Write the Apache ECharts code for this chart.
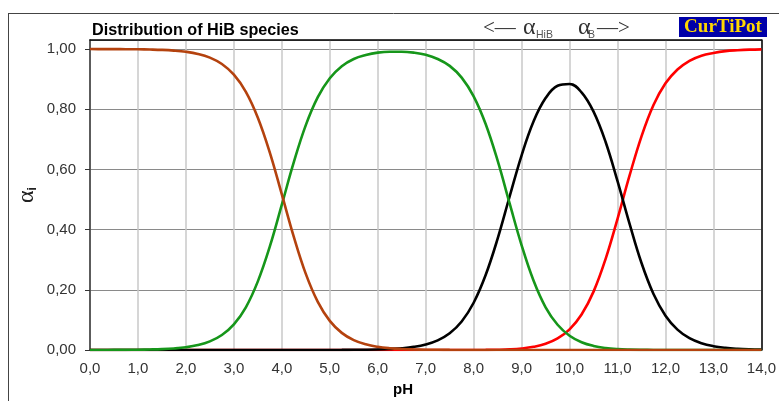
<!DOCTYPE html>
<html><head><meta charset="utf-8">
<script src="https://cdn.jsdelivr.net/npm/echarts@6/dist/echarts.min.js"></script>
<style>html,body{margin:0;padding:0;background:#fff}#c{width:779px;height:401px}</style>
</head><body><div id="c"></div>
<script>
const pH = [0,0.25,0.5,0.75,1,1.25,1.5,1.75,2,2.25,2.5,2.75,3,3.25,3.5,3.75,4,4.25,4.5,4.75,5,5.25,5.5,5.75,6,6.25,6.5,6.75,7,7.25,7.5,7.75,8,8.25,8.5,8.75,9,9.25,9.5,9.75,10,10.25,10.5,10.75,11,11.25,11.5,11.75,12,12.25,12.5,12.75,13,13.25,13.5,13.75,14];
const alphaBrown = [0.9999,0.9998,0.9997,0.9995,0.9991,0.9983,0.9971,0.9948,0.9908,0.9837,0.9713,0.9501,0.9147,0.858,0.772,0.656,0.517,0.376,0.253,0.160,0.0968,0.0569,0.0328,0.0187,0.0106,0.0060,0.0034,0.0019,0.0010,0.0006,0.0003,0.0002,0.0001,0,0,0,0,0,0,0,0,0,0,0,0,0,0,0,0,0,0,0,0,0,0,0,0];
const alphaGreen = [0.0001,0.0002,0.0003,0.0005,0.0009,0.0017,0.0029,0.0052,0.0092,0.0163,0.0287,0.0499,0.0853,0.142,0.228,0.344,0.483,0.624,0.747,0.840,0.903,0.943,0.967,0.980,0.988,0.991,0.991,0.988,0.981,0.967,0.944,0.905,0.843,0.751,0.629,0.487,0.348,0.230,0.142,0.084,0.0475,0.0259,0.0135,0.0066,0.0030,0.0013,0.0005,0.0002,0.0001,0,0,0,0,0,0,0,0];
const alphaBlack = [0,0,0,0,0,0,0,0,0,0,0,0,0,0,0,0,0,0,0,0,0.0002,0.0003,0.0006,0.0010,0.0018,0.0033,0.0058,0.0103,0.0182,0.0320,0.0556,0.0947,0.157,0.249,0.370,0.510,0.647,0.760,0.837,0.878,0.884,0.856,0.792,0.692,0.561,0.420,0.289,0.186,0.114,0.0676,0.0391,0.0224,0.0127,0.0072,0.0041,0.0023,0.0013];
const alphaRed = [0,0,0,0,0,0,0,0,0,0,0,0,0,0,0,0,0,0,0,0,0,0,0,0,0,0,0,0,0,0,0,0,0.0001,0.0003,0.0009,0.0022,0.0050,0.0105,0.0205,0.0383,0.0686,0.118,0.194,0.302,0.436,0.579,0.710,0.814,0.886,0.932,0.961,0.978,0.987,0.993,0.996,0.998,0.999];

const chart = echarts.init(document.getElementById('c'), null, {renderer:'canvas'});
const fmtY = v => v.toFixed(2).replace('.', ',');
const fmtX = v => v.toFixed(1).replace('.', ',');
const pairs = arr => pH.map((x, i) => [x, arr[i]]);
const mk = (arr, color) => ({type:'line', data:pairs(arr), showSymbol:false, smooth:0.4,
  lineStyle:{color:color, width:2.6}, itemStyle:{color:color}, silent:true});
const SANS = '"Liberation Sans", Arial, sans-serif';
const SERIF = '"Liberation Serif", "Times New Roman", serif';

chart.setOption({
  animation:false,
  grid:{left:90, right:12, top:40, bottom:51},
  xAxis:[{type:'value', min:0, max:14, interval:1,
    axisLine:{show:true, onZero:false, lineStyle:{color:'#333', width:1.5}},
    axisTick:{show:false},
    axisLabel:{formatter:fmtX, color:'#333', fontSize:15, fontFamily:SANS, margin:11},
    splitLine:{show:true, lineStyle:{color:'#c8c8c8', width:1.5}}},
   {type:'value', position:'top', min:0, max:14,
    axisLine:{show:true, onZero:false, lineStyle:{color:'#000', width:1.5}},
    axisTick:{show:false}, axisLabel:{show:false}, splitLine:{show:false}}],
  yAxis:[{type:'value', min:0, max:1.03, interval:0.2,
    axisLine:{show:true, onZero:false, lineStyle:{color:'#333', width:1.5}},
    axisTick:{show:true, length:5, lineStyle:{color:'#333'}},
    axisLabel:{formatter:fmtY, showMaxLabel:false, color:'#333', fontSize:15, fontFamily:SANS, margin:14},
    splitLine:{show:true, lineStyle:{color:'#8a8a8a', width:1}},
    name:'{a|α}{s|i}', nameLocation:'middle', nameGap:51, nameRotate:90, nameMoveOverlap:false,
    nameTextStyle:{rich:{a:{fontSize:24, fontFamily:SERIF, color:'#222'},
      s:{fontSize:12, fontFamily:SANS, fontWeight:'bold', color:'#222', verticalAlign:'bottom', padding:[10,0,0,0]}}}},
   {type:'value', position:'right', min:0, max:1.03,
    axisLine:{show:true, onZero:false, lineStyle:{color:'#000', width:1.5}},
    axisTick:{show:false}, axisLabel:{show:false}, splitLine:{show:false}}],
  series:[mk(alphaRed,'#ff0000'), mk(alphaBlack,'#000000'), mk(alphaGreen,'#16961a'), mk(alphaBrown,'#b4420e')],
  graphic:[
    {type:'line', shape:{x1:8, y1:13.5, x2:779, y2:13.5}, style:{stroke:'#444', lineWidth:1}},
    {type:'line', shape:{x1:8.5, y1:13, x2:8.5, y2:401}, style:{stroke:'#444', lineWidth:1}},
    {type:'text', x:92, y:31, style:{text:'Distribution of HiB species', font:'bold 16.2px ' + SANS, fill:'#000', verticalAlign:'middle'}},
    {type:'text', x:483, y:28, style:{text:'<—', font:'21px ' + SERIF, fill:'#333', verticalAlign:'middle'}},
    {type:'text', x:523, y:28, style:{text:'α', font:'24px ' + SERIF, fill:'#333', verticalAlign:'middle'}},
    {type:'text', x:536, y:35, style:{text:'HiB', font:'10.5px ' + SANS, fill:'#555', verticalAlign:'middle'}},
    {type:'text', x:578, y:28, style:{text:'α', font:'24px ' + SERIF, fill:'#333', verticalAlign:'middle'}},
    {type:'text', x:588, y:35, style:{text:'B', font:'10.5px ' + SANS, fill:'#555', verticalAlign:'middle'}},
    {type:'text', x:597, y:28, style:{text:'—>', font:'21px ' + SERIF, fill:'#333', verticalAlign:'middle'}},
    {type:'rect', shape:{x:679, y:17, width:88, height:20}, style:{fill:'#0000a8'}},
    {type:'text', x:723, y:27, style:{text:'CurTiPot', font:'bold 19px ' + SERIF, fill:'#ffd800', align:'center', verticalAlign:'middle'}},
    {type:'text', x:393, y:390, style:{text:'pH', font:'bold 15px ' + SANS, fill:'#000', verticalAlign:'middle'}}
  ]
});
</script></body></html>
